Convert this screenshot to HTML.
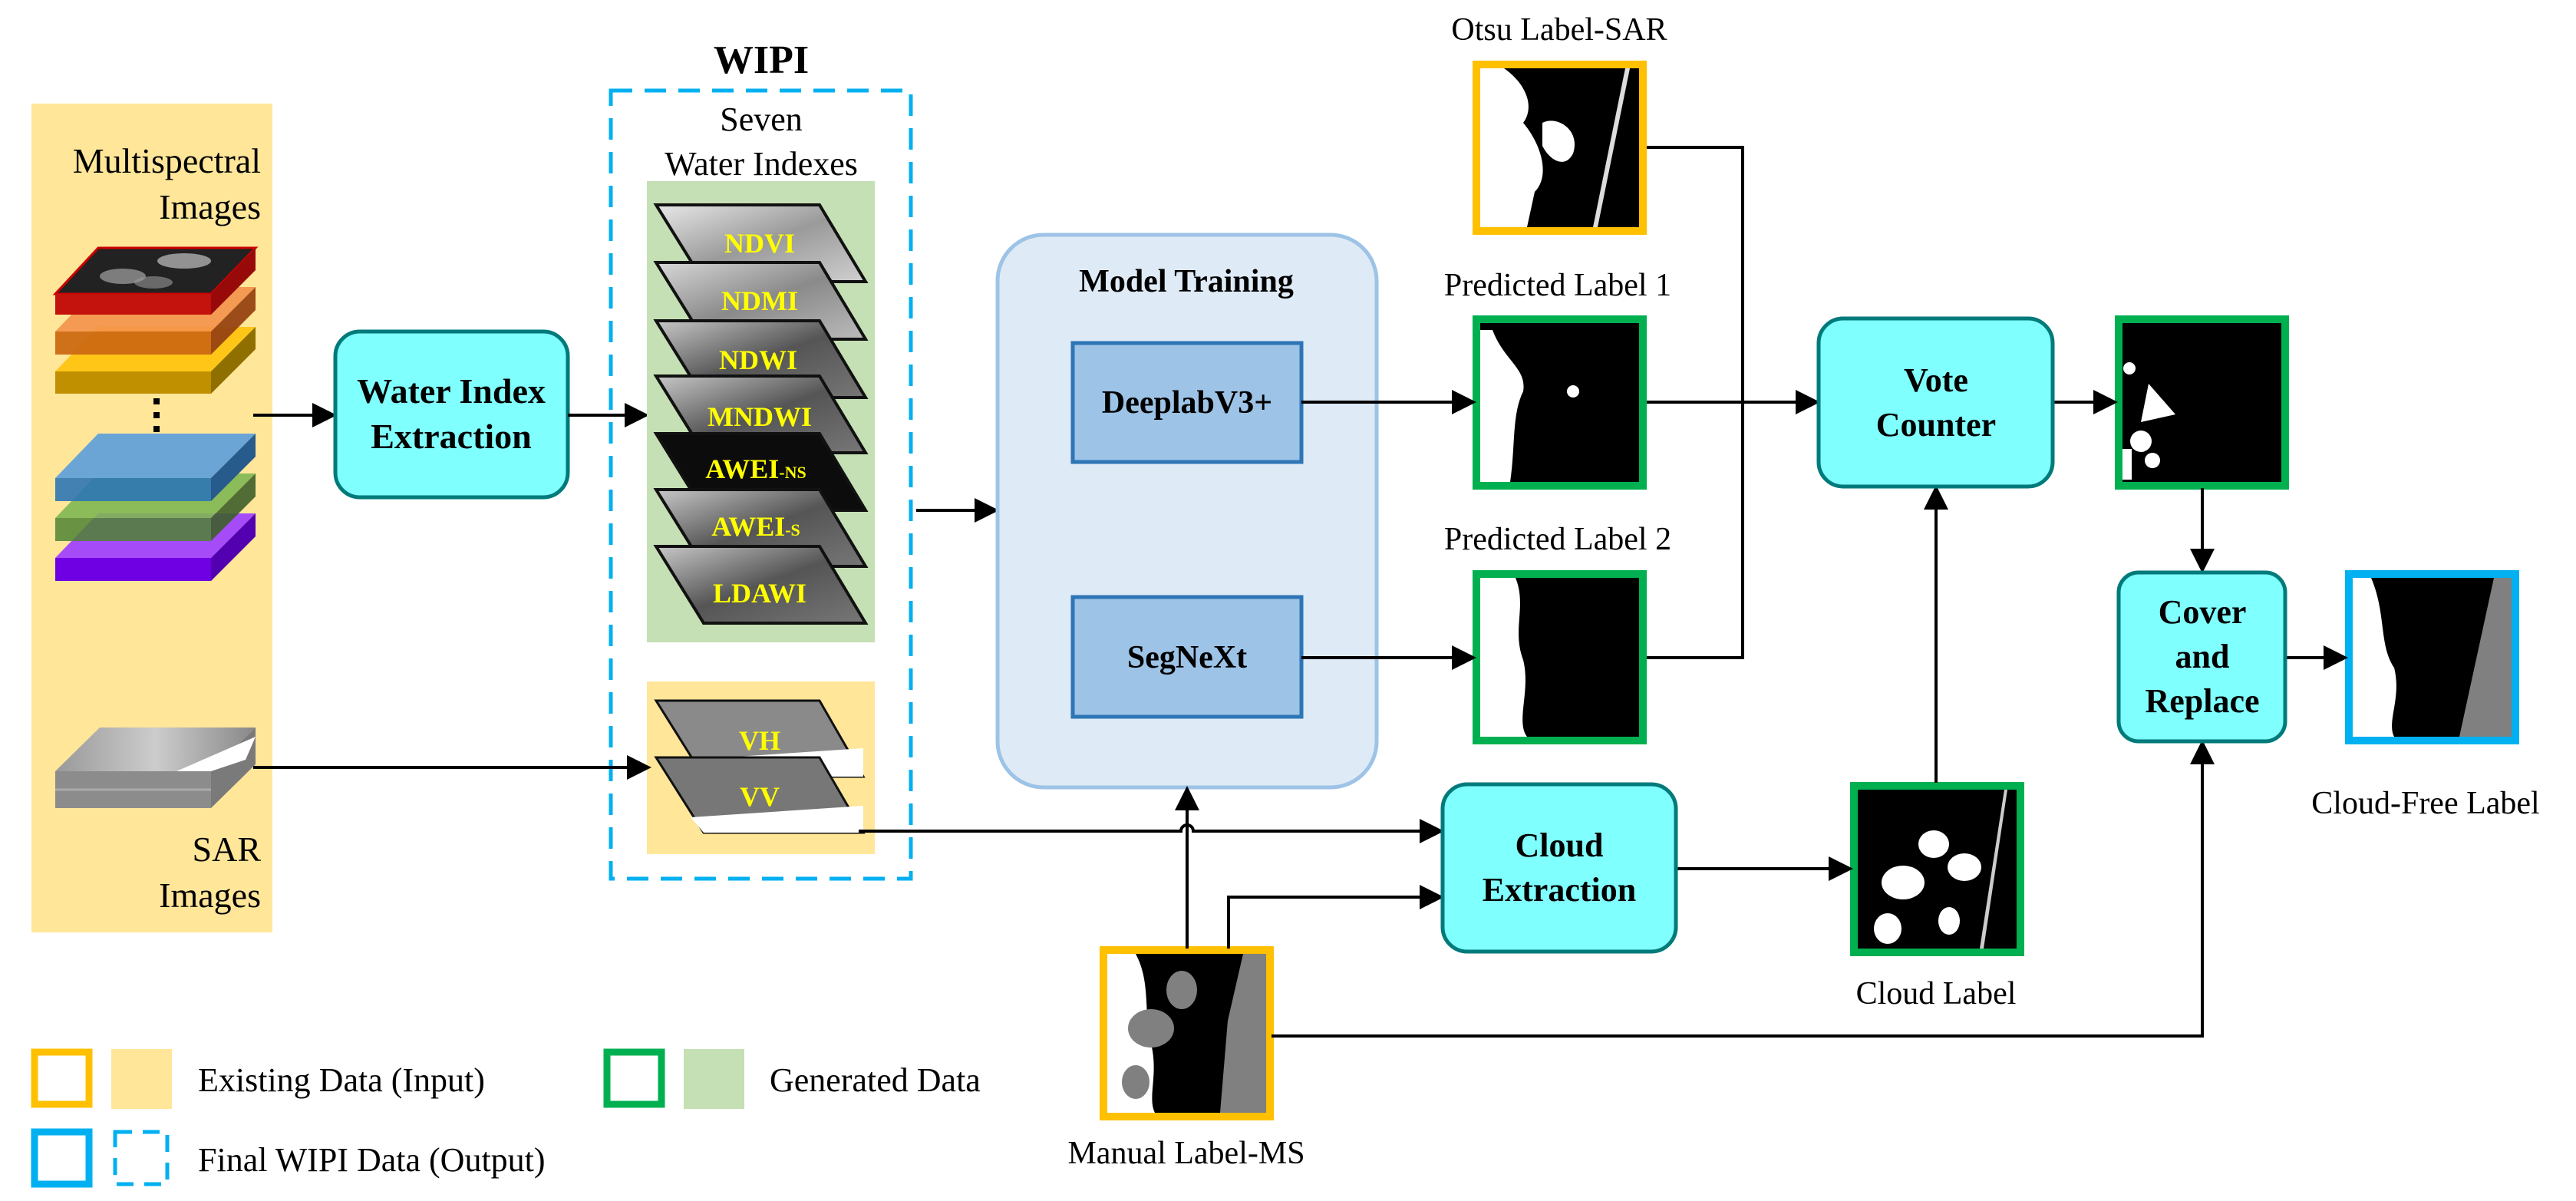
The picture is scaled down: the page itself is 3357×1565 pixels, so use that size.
<!DOCTYPE html>
<html><head><meta charset="utf-8"><style>
html,body{margin:0;padding:0;background:#fff;}
svg{display:block;font-family:"Liberation Serif","Noto Serif CJK SC",serif;}
</style></head><body>
<svg width="3357" height="1565" viewBox="0 0 3357 1565" xmlns="http://www.w3.org/2000/svg" font-family="'Liberation Serif', 'Noto Serif CJK SC', serif">
<defs>
<marker id="ah" markerWidth="8" markerHeight="8" refX="7" refY="4" orient="auto" markerUnits="strokeWidth"><path d="M0,0 L8,4 L0,8 z" fill="#000"/></marker>
<linearGradient id="g1" x1="0" y1="0" x2="1" y2="1"><stop offset="0" stop-color="#e8e8e8"/><stop offset=".5" stop-color="#9a9a9a"/><stop offset="1" stop-color="#d0d0d0"/></linearGradient>
<linearGradient id="g2" x1="0" y1="0" x2="1" y2="1"><stop offset="0" stop-color="#d8d8d8"/><stop offset=".5" stop-color="#8a8a8a"/><stop offset="1" stop-color="#bbb"/></linearGradient>
<linearGradient id="g3" x1="0" y1="0" x2="1" y2="1"><stop offset="0" stop-color="#c8c8c8"/><stop offset=".5" stop-color="#555"/><stop offset="1" stop-color="#777"/></linearGradient>
<linearGradient id="gs" x1="0" y1="0" x2="1" y2="0"><stop offset="0" stop-color="#999"/><stop offset=".5" stop-color="#ccc"/><stop offset="1" stop-color="#888"/></linearGradient>
</defs>

<rect x="41" y="135" width="314" height="1080" fill="#ffe699"/>
<text x="340" y="225" font-size="46" text-anchor="end">Multispectral</text>
<text x="340" y="285" font-size="46" text-anchor="end">Images</text>
<polygon points="72,484 128,426 333,426 275,484" fill="#ffc000" opacity=".85"/>
<rect x="72" y="484" width="203" height="29" fill="#c09000"/>
<polygon points="275,484 333,426 333,455 275,513" fill="#8f6f00"/>
<polygon points="72,432 128,374 333,374 275,432" fill="#f4914a" opacity=".9"/>
<rect x="72" y="432" width="203" height="30" fill="#cc6a12" opacity=".95"/>
<polygon points="275,432 333,374 333,404 275,462" fill="#974311" opacity=".95"/>
<polygon points="72,383 128,323 333,323 275,383" fill="#222" stroke="#c00" stroke-width="3"/>
<ellipse cx="160" cy="360" rx="30" ry="10" fill="#bbb" opacity=".6"/>
<ellipse cx="240" cy="340" rx="35" ry="10" fill="#ddd" opacity=".6"/>
<ellipse cx="200" cy="368" rx="25" ry="8" fill="#999" opacity=".6"/>
<rect x="72" y="383" width="203" height="27" fill="#c4120c"/>
<polygon points="275,383 333,323 333,352 275,410" fill="#980a0a"/>
<rect x="200" y="519" width="8" height="8" fill="#000"/><rect x="200" y="537" width="8" height="8" fill="#000"/><rect x="200" y="555" width="8" height="8" fill="#000"/>
<polygon points="72,727 128,669 333,669 275,727" fill="#a64bf8"/>
<rect x="72" y="727" width="203" height="30" fill="#7000e4"/>
<polygon points="275,727 333,669 333,699 275,757" fill="#5200b0"/>
<polygon points="72,675 128,617 333,617 275,675" fill="#7fb752" opacity=".9"/>
<rect x="72" y="675" width="203" height="30" fill="#4f8232" opacity=".85"/>
<polygon points="275,675 333,617 333,647 275,705" fill="#3e5f2a" opacity=".9"/>
<polygon points="72,623 128,565 333,565 275,623" fill="#6aa5d6"/>
<rect x="72" y="623" width="203" height="30" fill="#2e76b4" opacity=".9"/>
<polygon points="275,623 333,565 333,595 275,653" fill="#265b8c"/>
<rect x="72" y="1005" width="203" height="48" fill="#8c8c8c"/>
<line x1="72" y1="1029" x2="275" y2="1029" stroke="#aaa" stroke-width="3"/>
<polygon points="275,1005 333,948 333,996 275,1053" fill="#7a7a7a"/>
<polygon points="72,1005 130,948 333,948 275,1005" fill="url(#gs)"/>
<polygon points="230,1005 333,960 320,990 275,1005" fill="#fff"/>
<text x="340" y="1122" font-size="46" text-anchor="end">SAR</text>
<text x="340" y="1182" font-size="46" text-anchor="end">Images</text>

<line x1="330" y1="541" x2="435" y2="541" stroke="#000" stroke-width="4" marker-end="url(#ah)"/>
<rect x="437" y="432" width="303" height="216" rx="32" fill="#80ffff" stroke="#007a7a" stroke-width="5"/>
<text x="588" y="525" font-size="46" font-weight="bold" text-anchor="middle">Water Index</text>
<text x="588" y="584" font-size="46" font-weight="bold" text-anchor="middle">Extraction</text>
<line x1="740" y1="541" x2="842" y2="541" stroke="#000" stroke-width="4" marker-end="url(#ah)"/>

<text x="992" y="95" font-size="52" font-weight="bold" text-anchor="middle">WIPI</text>
<rect x="796" y="118" width="391" height="1027" fill="none" stroke="#00b0f0" stroke-width="5" stroke-dasharray="28,16"/>
<text x="992" y="170" font-size="44" text-anchor="middle">Seven</text>
<text x="992" y="228" font-size="44" text-anchor="middle">Water Indexes</text>
<rect x="843" y="236" width="297" height="601" fill="#c5e0b4"/>
<g stroke="#111" stroke-width="4">
<polygon points="855,267 1068,267 1128,367 917,367" fill="url(#g1)"/>
<polygon points="855,342 1068,342 1128,442 917,442" fill="url(#g2)"/>
<polygon points="855,418 1068,418 1128,518 917,518" fill="url(#g3)"/>
<polygon points="855,490 1068,490 1128,590 917,590" fill="url(#g3)"/>
<polygon points="855,565 1068,565 1128,665 917,665" fill="#0c0c0c"/>
<polygon points="855,638 1068,638 1128,738 917,738" fill="url(#g3)"/>
<polygon points="855,712 1068,712 1128,812 917,812" fill="url(#g3)"/>
</g>
<g fill="#ffff00" font-weight="bold" font-size="36" text-anchor="middle">
<text x="990" y="329">NDVI</text>
<text x="990" y="404">NDMI</text>
<text x="988" y="481">NDWI</text>
<text x="990" y="555">MNDWI</text>
<text x="985" y="623">AWEI<tspan font-size="22">-NS</tspan></text>
<text x="985" y="698">AWEI<tspan font-size="22">-S</tspan></text>
<text x="990" y="785">LDAWI</text>
</g>
<rect x="843" y="888" width="297" height="225" fill="#ffe699"/>
<g stroke="#111" stroke-width="3">
<polygon points="855,913 1068,913 1125,1012 917,1012" fill="#8a8a8a"/>
<polygon points="900,990 1125,975 1125,1012 917,1012" fill="#fff" stroke="none"/>
<polygon points="855,987 1068,987 1125,1085 917,1085" fill="#777"/>
<polygon points="900,1065 1125,1050 1125,1085 917,1085" fill="#fff" stroke="none"/>
</g>
<g fill="#ffff00" font-weight="bold" font-size="36" text-anchor="middle">
<text x="990" y="977">VH</text><text x="990" y="1050">VV</text></g>
<line x1="330" y1="1000" x2="845" y2="1000" stroke="#000" stroke-width="4" marker-end="url(#ah)"/>

<line x1="1194" y1="665" x2="1298" y2="665" stroke="#000" stroke-width="4" marker-end="url(#ah)"/>
<rect x="1300" y="306" width="494" height="720" rx="60" fill="#deeaf6" stroke="#9dc3e6" stroke-width="5"/>
<text x="1546" y="380" font-size="42" font-weight="bold" text-anchor="middle">Model Training</text>
<rect x="1398" y="447" width="298" height="155" fill="#9dc3e6" stroke="#2e75b6" stroke-width="5"/>
<text x="1547" y="538" font-size="42" font-weight="bold" text-anchor="middle">DeeplabV3+</text>
<rect x="1398" y="778" width="298" height="156" fill="#9dc3e6" stroke="#2e75b6" stroke-width="5"/>
<text x="1547" y="870" font-size="42" font-weight="bold" text-anchor="middle">SegNeXt</text>

<g>
<text x="2032" y="52" font-size="42" text-anchor="middle">Otsu Label-SAR</text>
<rect x="1924" y="84" width="217" height="217" fill="#000" stroke="#ffc000" stroke-width="10"/>
<path d="M1929,89 L1960,89 C1990,110 2000,140 1985,160 C2010,190 2020,230 2000,250 L1990,296 L1929,296 Z" fill="#fff"/>
<path d="M2010,160 C2030,150 2060,170 2050,200 C2040,220 2020,210 2010,190 Z" fill="#fff"/>
<polygon points="2118,89 2124,89 2082,296 2076,296" fill="#ddd"/>

<text x="2030" y="385" font-size="42" text-anchor="middle">Predicted Label 1</text>
<rect x="1924" y="416" width="217" height="217" fill="#000" stroke="#00b050" stroke-width="10"/>
<path d="M1929,430 L1945,430 C1960,470 1990,480 1985,510 C1970,540 1975,580 1968,628 L1929,628 Z" fill="#fff"/>
<circle cx="2050" cy="510" r="8" fill="#fff"/>

<text x="2030" y="716" font-size="42" text-anchor="middle">Predicted Label 2</text>
<rect x="1924" y="748" width="217" height="217" fill="#000" stroke="#00b050" stroke-width="10"/>
<path d="M1929,753 L1975,753 C1990,790 1970,820 1985,860 C1995,900 1975,940 1990,960 L1929,960 Z" fill="#fff"/>

<rect x="2761" y="416" width="217" height="217" fill="#000" stroke="#00b050" stroke-width="10"/>
<path d="M2800,500 L2835,540 L2790,550 Z" fill="#fff"/>
<circle cx="2790" cy="575" r="14" fill="#fff"/><circle cx="2805" cy="600" r="10" fill="#fff"/>
<circle cx="2775" cy="480" r="8" fill="#fff"/><rect x="2766" y="585" width="12" height="40" fill="#fff"/>

<rect x="3061" y="748" width="217" height="217" fill="#000" stroke="#00b0f0" stroke-width="10"/>
<path d="M3066,753 L3090,753 C3110,800 3100,840 3120,870 C3130,910 3110,940 3120,960 L3066,960 Z" fill="#fff"/>
<polygon points="3250,753 3273,753 3273,960 3205,960" fill="#808080"/>
<text x="3161" y="1060" font-size="42" text-anchor="middle">Cloud-Free Label</text>

<rect x="2416" y="1024" width="217" height="217" fill="#000" stroke="#00b050" stroke-width="10"/>
<ellipse cx="2480" cy="1150" rx="28" ry="22" fill="#fff"/><ellipse cx="2520" cy="1100" rx="20" ry="18" fill="#fff"/>
<ellipse cx="2460" cy="1210" rx="18" ry="20" fill="#fff"/><ellipse cx="2540" cy="1200" rx="14" ry="18" fill="#fff"/>
<ellipse cx="2560" cy="1130" rx="22" ry="18" fill="#fff"/>
<polygon points="2612,1029 2616,1029 2585,1236 2580,1236" fill="#ccc"/>
<text x="2523" y="1308" font-size="42" text-anchor="middle">Cloud Label</text>

<rect x="1438" y="1238" width="217" height="217" fill="#000" stroke="#ffc000" stroke-width="10"/>
<path d="M1443,1243 L1480,1243 C1500,1280 1490,1320 1500,1360 C1510,1400 1495,1430 1505,1450 L1443,1450 Z" fill="#fff"/>
<ellipse cx="1500" cy="1340" rx="30" ry="25" fill="#808080"/><ellipse cx="1480" cy="1410" rx="18" ry="22" fill="#808080"/>
<ellipse cx="1540" cy="1290" rx="20" ry="25" fill="#808080"/>
<polygon points="1620,1243 1650,1243 1650,1450 1590,1450 1600,1330" fill="#808080"/>
<text x="1546" y="1516" font-size="42" text-anchor="middle">Manual Label-MS</text>
</g>

<g stroke="#000" stroke-width="4" fill="none">
<line x1="1696" y1="524" x2="1920" y2="524" marker-end="url(#ah)"/>
<line x1="1696" y1="857" x2="1920" y2="857" marker-end="url(#ah)"/>
<polyline points="2146,192 2271,192 2271,857 2146,857"/>
<line x1="2146" y1="524" x2="2368" y2="524" marker-end="url(#ah)"/>
<line x1="2675" y1="524" x2="2756" y2="524" marker-end="url(#ah)"/>
<line x1="2870" y1="636" x2="2870" y2="743" marker-end="url(#ah)"/>
<line x1="2978" y1="857" x2="3056" y2="857" marker-end="url(#ah)"/>
<line x1="2523" y1="1020" x2="2523" y2="636" marker-end="url(#ah)"/>
<line x1="2184" y1="1132" x2="2411" y2="1132" marker-end="url(#ah)"/>
<path d="M1119,1083 L1539,1083 A8,8 0 0 1 1555,1083 L1878,1083" marker-end="url(#ah)"/>
<line x1="1547" y1="1236" x2="1547" y2="1028" marker-end="url(#ah)"/>
<polyline points="1601,1236 1601,1169 1878,1169" marker-end="url(#ah)"/>
<polyline points="1657,1350 2870,1350 2870,968" marker-end="url(#ah)"/>
</g>

<rect x="2370" y="415" width="305" height="219" rx="32" fill="#80ffff" stroke="#007a7a" stroke-width="5"/>
<text x="2523" y="510" font-size="44" font-weight="bold" text-anchor="middle">Vote</text>
<text x="2523" y="568" font-size="44" font-weight="bold" text-anchor="middle">Counter</text>
<rect x="2761" y="746" width="217" height="220" rx="26" fill="#80ffff" stroke="#007a7a" stroke-width="5"/>
<text x="2870" y="812" font-size="44" font-weight="bold" text-anchor="middle">Cover</text>
<text x="2870" y="870" font-size="44" font-weight="bold" text-anchor="middle">and</text>
<text x="2870" y="928" font-size="44" font-weight="bold" text-anchor="middle">Replace</text>
<rect x="1880" y="1022" width="304" height="218" rx="32" fill="#80ffff" stroke="#007a7a" stroke-width="5"/>
<text x="2032" y="1116" font-size="44" font-weight="bold" text-anchor="middle">Cloud</text>
<text x="2032" y="1174" font-size="44" font-weight="bold" text-anchor="middle">Extraction</text>

<rect x="45" y="1371" width="71" height="68" fill="none" stroke="#ffc000" stroke-width="9"/>
<rect x="145" y="1367" width="79" height="78" fill="#ffe699"/>
<text x="258" y="1422" font-size="44">Existing Data (Input)</text>
<rect x="791" y="1371" width="71" height="68" fill="none" stroke="#00b050" stroke-width="9"/>
<rect x="891" y="1367" width="79" height="78" fill="#c5e0b4"/>
<text x="1003" y="1422" font-size="44">Generated Data</text>
<rect x="45" y="1475" width="71" height="68" fill="none" stroke="#00b0f0" stroke-width="9"/>
<rect x="150" y="1475" width="68" height="68" fill="none" stroke="#00b0f0" stroke-width="5" stroke-dasharray="22,14"/>
<text x="258" y="1526" font-size="44">Final WIPI Data (Output)</text>
</svg>
</body></html>
